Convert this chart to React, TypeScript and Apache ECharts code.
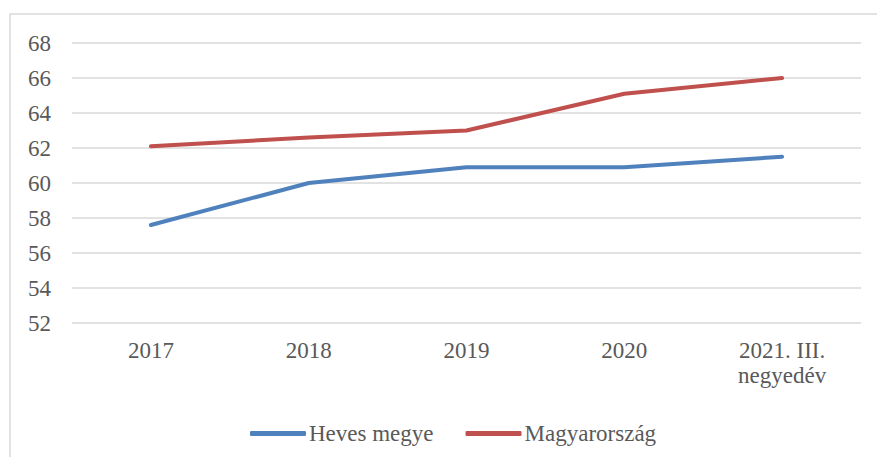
import React, { useEffect, useRef } from "react";
import * as echarts from "echarts";

const categories = ["2017", "2018", "2019", "2020", "2021. III.\nnegyedév"];
const hevesMegye = [57.6, 60.0, 60.9, 60.9, 61.5];
const magyarorszag = [62.1, 62.6, 63.0, 65.1, 66.0];
const yMin = 52;
const yMax = 68;
const yInterval = 2;

export default function App() {
  const ref = useRef<HTMLDivElement>(null);
  useEffect(() => {
    document.body.style.margin = "0";
    const chart = echarts.init(ref.current!, null, { renderer: "svg" });
    const font = "Liberation Serif";
    chart.setOption({
      animation: false,
      backgroundColor: "#ffffff",
      textStyle: { fontFamily: font },
      graphic: [
        {
          type: "rect",
          shape: { x: 10, y: 14, width: 900, height: 500 },
          style: { fill: "none", stroke: "#d9d9d9", lineWidth: 1.5 },
          silent: true,
        },
      ],
      grid: { left: 72, right: 16, top: 43, bottom: 134, containLabel: false },
      xAxis: {
        type: "category",
        data: categories,
        boundaryGap: true,
        axisLine: { show: false },
        axisTick: { show: false },
        axisLabel: {
          color: "#595959",
          fontFamily: font,
          fontSize: 23,
          lineHeight: 25,
          margin: 15,
          interval: 0,
        },
      },
      yAxis: {
        type: "value",
        min: yMin,
        max: yMax,
        interval: yInterval,
        axisLine: { show: false },
        axisTick: { show: false },
        splitLine: { lineStyle: { color: "#d9d9d9", width: 1.5 } },
        axisLabel: { color: "#595959", fontFamily: font, fontSize: 23, margin: 21 },
      },
      legend: {
        left: 245,
        top: 417,
        itemWidth: 56,
        itemHeight: 5,
        itemGap: 32,
        icon: "roundRect",
        textStyle: { color: "#595959", fontFamily: font, fontSize: 23, padding: [0, 0, 0, -2] },
        data: ["Heves megye", "Magyarország"],
      },
      series: [
        {
          name: "Heves megye",
          type: "line",
          data: hevesMegye,
          symbol: "none",
          color: "#4f81bd",
          lineStyle: { width: 4, color: "#4f81bd", cap: "round", join: "round" },
        },
        {
          name: "Magyarország",
          type: "line",
          data: magyarorszag,
          symbol: "none",
          color: "#c0504d",
          lineStyle: { width: 4, color: "#c0504d", cap: "round", join: "round" },
        },
      ],
    });
    return () => chart.dispose();
  }, []);
  return <div ref={ref} style={{ width: 877, height: 457 }} />;
}
